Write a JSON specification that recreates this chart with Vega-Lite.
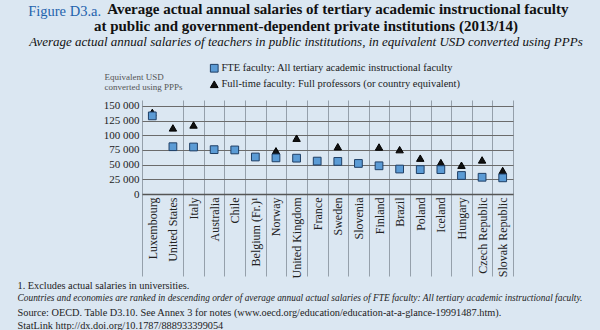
{
  "$schema": "https://vega.github.io/schema/vega-lite/v6.json",
  "width": 371,
  "height": 94,
  "autosize": {"type": "none"},
  "padding": {"left": 142, "top": 100, "right": 87, "bottom": 136},
  "background": "#dbe7f2",
  "config": {"view": {"stroke": null}, "font": "Liberation Serif"},
  "title": {
    "text": ["\u200b\u00a0\u00a0\u00a0\u00a0\u00a0\u00a0\u00a0\u00a0\u00a0\u00a0\u00a0\u00a0\u00a0\u00a0\u00a0\u00a0\u00a0Average actual annual salaries of tertiary academic instructional faculty", "at public and government-dependent private institutions (2013/14)"],
    "subtitle": "Average actual annual salaries of teachers in public institutions, in equivalent USD converted using PPPs",
    "font": "Liberation Serif",
    "fontSize": 15,
    "fontWeight": "bold",
    "color": "#111111",
    "lineHeight": 17,
    "subtitleFont": "Liberation Serif",
    "subtitleFontSize": 13,
    "subtitleFontStyle": "italic",
    "subtitleColor": "#111111",
    "subtitlePadding": 2,
    "anchor": "middle",
    "frame": "group",
    "dx": -21.5,
    "offset": -46
  },
  "data": {
    "values": [
      {"country": "Luxembourg", "series": "Full-time faculty: Full professors (or country equivalent)", "value": 139000},
      {"country": "United States", "series": "Full-time faculty: Full professors (or country equivalent)", "value": 112500},
      {"country": "Italy", "series": "Full-time faculty: Full professors (or country equivalent)", "value": 117500},
      {"country": "Norway", "series": "Full-time faculty: Full professors (or country equivalent)", "value": 73500},
      {"country": "United Kingdom", "series": "Full-time faculty: Full professors (or country equivalent)", "value": 95000},
      {"country": "Sweden", "series": "Full-time faculty: Full professors (or country equivalent)", "value": 80500},
      {"country": "Finland", "series": "Full-time faculty: Full professors (or country equivalent)", "value": 80000},
      {"country": "Brazil", "series": "Full-time faculty: Full professors (or country equivalent)", "value": 75500},
      {"country": "Poland", "series": "Full-time faculty: Full professors (or country equivalent)", "value": 61000},
      {"country": "Iceland", "series": "Full-time faculty: Full professors (or country equivalent)", "value": 53500},
      {"country": "Hungary", "series": "Full-time faculty: Full professors (or country equivalent)", "value": 49000},
      {"country": "Czech Republic", "series": "Full-time faculty: Full professors (or country equivalent)", "value": 58000},
      {"country": "Slovak Republic", "series": "Full-time faculty: Full professors (or country equivalent)", "value": 40000},
      {"country": "Luxembourg", "series": "FTE faculty: All tertiary academic instructional faculty", "value": 133000},
      {"country": "United States", "series": "FTE faculty: All tertiary academic instructional faculty", "value": 80500},
      {"country": "Italy", "series": "FTE faculty: All tertiary academic instructional faculty", "value": 80000},
      {"country": "Australia", "series": "FTE faculty: All tertiary academic instructional faculty", "value": 75500},
      {"country": "Chile", "series": "FTE faculty: All tertiary academic instructional faculty", "value": 75000},
      {"country": "Belgium (Fr.)¹", "series": "FTE faculty: All tertiary academic instructional faculty", "value": 63000},
      {"country": "Norway", "series": "FTE faculty: All tertiary academic instructional faculty", "value": 61500},
      {"country": "United Kingdom", "series": "FTE faculty: All tertiary academic instructional faculty", "value": 61000},
      {"country": "France", "series": "FTE faculty: All tertiary academic instructional faculty", "value": 56000},
      {"country": "Sweden", "series": "FTE faculty: All tertiary academic instructional faculty", "value": 55500},
      {"country": "Slovenia", "series": "FTE faculty: All tertiary academic instructional faculty", "value": 52000},
      {"country": "Finland", "series": "FTE faculty: All tertiary academic instructional faculty", "value": 48000},
      {"country": "Brazil", "series": "FTE faculty: All tertiary academic instructional faculty", "value": 42500},
      {"country": "Poland", "series": "FTE faculty: All tertiary academic instructional faculty", "value": 41500},
      {"country": "Iceland", "series": "FTE faculty: All tertiary academic instructional faculty", "value": 41500},
      {"country": "Hungary", "series": "FTE faculty: All tertiary academic instructional faculty", "value": 31500},
      {"country": "Czech Republic", "series": "FTE faculty: All tertiary academic instructional faculty", "value": 28500},
      {"country": "Slovak Republic", "series": "FTE faculty: All tertiary academic instructional faculty", "value": 27500}
    ]
  },
  "encoding": {
    "shape": {
      "field": "series", "type": "nominal",
      "scale": {"domain": ["FTE faculty: All tertiary academic instructional faculty", "Full-time faculty: Full professors (or country equivalent)"], "range": ["square", "triangle-up"]},
      "legend": {"orient": "none", "legendX": 67, "legendY": -37, "title": null, "padding": 0, "labelFont": "Liberation Serif", "labelFontSize": 10.5, "labelColor": "#1a1a1a", "labelLimit": 400, "symbolSize": 60, "symbolStrokeWidth": 1, "rowPadding": 3, "labelOffset": 2, "direction": "vertical"}
    },
    "color": {
      "field": "series", "type": "nominal",
      "scale": {"domain": ["FTE faculty: All tertiary academic instructional faculty", "Full-time faculty: Full professors (or country equivalent)"], "range": ["#5b9bd5", "#111111"]},
      "legend": {"orient": "none", "legendX": 67, "legendY": -37, "title": null, "padding": 0, "labelFont": "Liberation Serif", "labelFontSize": 10.5, "labelColor": "#1a1a1a", "labelLimit": 400, "symbolSize": 60, "symbolStrokeWidth": 1, "rowPadding": 3, "labelOffset": 2, "direction": "vertical"}
    },
    "stroke": {
      "field": "series", "type": "nominal",
      "scale": {"domain": ["FTE faculty: All tertiary academic instructional faculty", "Full-time faculty: Full professors (or country equivalent)"], "range": ["#1f3f66", "#000000"]},
      "legend": {"orient": "none", "legendX": 67, "legendY": -37, "title": null, "padding": 0, "labelFont": "Liberation Serif", "labelFontSize": 10.5, "labelColor": "#1a1a1a", "labelLimit": 400, "symbolSize": 60, "symbolStrokeWidth": 1, "rowPadding": 3, "labelOffset": 2, "direction": "vertical"}
    }
  },
  "layer": [
    {
      "transform": [{"filter": {"field": "series", "equal": "Full-time faculty: Full professors (or country equivalent)"}}],
      "mark": {"type": "point", "filled": true, "size": 55, "strokeWidth": 1, "opacity": 1},
      "encoding": {
        "x": {
          "field": "country", "type": "nominal",
          "scale": {"type": "band", "paddingInner": 0, "paddingOuter": 0, "domain": ["Luxembourg", "United States", "Italy", "Australia", "Chile", "Belgium (Fr.)¹", "Norway", "United Kingdom", "France", "Sweden", "Slovenia", "Finland", "Brazil", "Poland", "Iceland", "Hungary", "Czech Republic", "Slovak Republic"]},
          "axis": {
            "orient": "bottom",
            "grid": true, "gridColor": "#95a0ab", "gridWidth": 1,
            "gridOpacity": {"condition": {"test": "datum.value === 'Luxembourg'", "value": 0}, "value": 1},
            "tickOpacity": {"condition": {"test": "datum.value === 'Luxembourg'", "value": 0}, "value": 1},
            "tickBand": "extent", "ticks": true, "tickSize": 82, "tickColor": "#95a0ab", "tickWidth": 1,
            "domain": true, "domainColor": "#555555", "domainWidth": 1.5,
            "labelAngle": -90, "labelAlign": "right", "labelBaseline": "middle", "labelPadding": -79,
            "labelFont": "Liberation Serif", "labelFontSize": 12, "labelColor": "#222222",
            "title": ["1. Excludes actual salaries in universities.", "\u200b", "Source: OECD. Table D3.10. See Annex 3 for notes (www.oecd.org/education/education-at-a-glance-19991487.htm).", "StatLink http://dx.doi.org/10.1787/888933399054"],
            "titleFont": "Liberation Serif", "titleFontSize": 10.3, "titleFontWeight": "normal", "titleColor": "#222222",
            "titleAlign": "left", "titleBaseline": "top", "titleX": -125, "titleY": 86, "titleLineHeight": 13.5
          }
        },
        "y": {
          "field": "value", "type": "quantitative",
          "scale": {"domain": [0, 150000]},
          "axis": {
            "orient": "left",
            "grid": true, "gridColor": "#6b6b6b", "gridWidth": 1,
            "domain": false, "ticks": false,
            "values": [0, 25000, 50000, 75000, 100000, 125000, 150000],
            "labelExpr": "replace(format(datum.value, ','), ',', ' ')",
            "labelFont": "Liberation Serif", "labelFontSize": 11, "labelColor": "#222222", "labelPadding": 3,
            "title": ["Equivalent USD", "converted using PPPs"],
            "titleFont": "Liberation Serif", "titleFontSize": 9, "titleFontWeight": "normal", "titleColor": "#555555",
            "titleAngle": 0, "titleAlign": "left", "titleBaseline": "top", "titleX": -38, "titleY": -28, "titleLineHeight": 10.5
          }
        }
      }
    },
    {
      "transform": [{"filter": {"field": "series", "equal": "FTE faculty: All tertiary academic instructional faculty"}}],
      "mark": {"type": "point", "filled": true, "size": 60, "strokeWidth": 1, "opacity": 1},
      "encoding": {
        "x": {
          "field": "country", "type": "nominal",
          "axis": {
            "orient": "bottom", "grid": false, "ticks": false, "labels": false, "domain": false,
            "title": "Countries and economies are ranked in descending order of average annual actual salaries of FTE faculty: All tertiary academic instructional faculty.",
            "titleFont": "Liberation Serif", "titleFontSize": 9.4, "titleFontWeight": "normal", "titleFontStyle": "italic", "titleColor": "#222222",
            "titleAlign": "left", "titleBaseline": "top", "titleX": -125, "titleY": 99.7
          }
        },
        "y": {
          "field": "value", "type": "quantitative",
          "axis": {
            "orient": "left", "grid": false, "ticks": false, "labels": false, "domain": false,
            "title": "Figure D3.a.",
            "titleFont": "Liberation Serif", "titleFontSize": 14.5, "titleFontWeight": "normal", "titleColor": "#1f63ad",
            "titleAngle": 0, "titleAlign": "left", "titleBaseline": "alphabetic", "titleX": -114.3, "titleY": -85
          }
        }
      }
    }
  ],
  "resolve": {"axis": {"x": "independent", "y": "independent"}}
}
